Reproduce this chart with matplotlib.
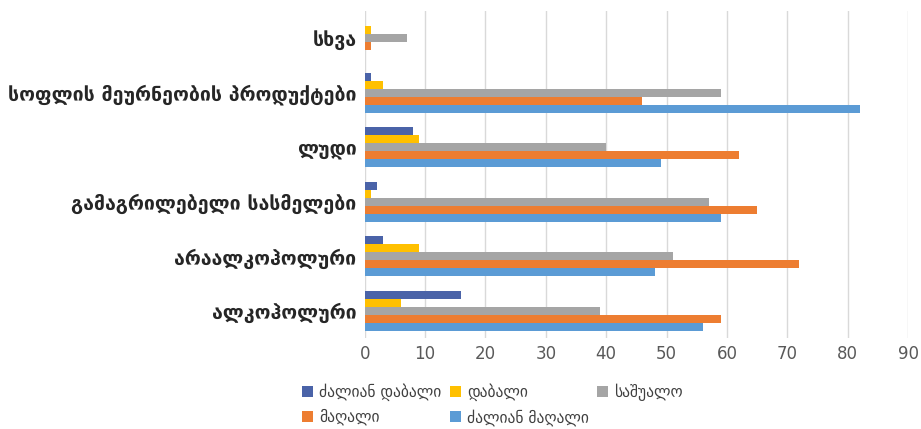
import numpy as np
import matplotlib.pyplot as plt

categories = ['ალკოჰოლური', 'არაალკოჰოლური', 'გამაგრილებელი სასმელები',
              'ლუდი', 'სოფლის მეურნეობის პროდუქტები', 'სხვა']
series_names = ['ძალიან დაბალი', 'დაბალი', 'საშუალო', 'მაღალი', 'ძალიან მაღალი']
very_low = [16, 3, 2, 8, 1, 0]
low = [6, 9, 1, 9, 3, 1]
medium = [39, 51, 57, 40, 59, 7]
high = [59, 72, 65, 62, 46, 1]
very_high = [56, 48, 59, 49, 82, 0]
x_ticks = [0, 10, 20, 30, 40, 50, 60, 70, 80, 90]

colors = ['#4a63a8', '#ffc000', '#a5a5a5', '#ed7d31', '#5b9bd5']
values = [very_low, low, medium, high, very_high]

plt.rcParams['font.family'] = ['DejaVu Sans']
fig = plt.figure(figsize=(9.21, 4.29), dpi=100)
ax = fig.add_axes([0.396, 0.2114, 0.59, 0.7636])

y = np.arange(len(categories))
h = 0.146
bars = []
for i, (vals, name, c) in enumerate(zip(values, series_names, colors)):
    offset = (2 - i) * h
    b = ax.barh(y + offset, vals, height=h, color=c, label=name, zorder=3)
    bars.append(b)

ax.set_xlim(0, 90)
ax.set_ylim(-0.5, len(categories) - 0.5)
ax.set_xticks(x_ticks)
ax.set_yticks(y)
ax.set_yticklabels(categories, fontsize=14, fontweight='bold', color='#262626')
ax.tick_params(axis='x', labelsize=12, colors='#595959', length=0, pad=5)
ax.tick_params(axis='y', length=0, pad=6)
ax.xaxis.grid(True, color='#d9d9d9', linewidth=1, zorder=0)
for s in ax.spines.values():
    s.set_visible(False)

# legend filled row-wise: reorder for matplotlib's column-wise fill
order = [0, 3, 1, 4, 2]
leg = fig.legend([bars[i] for i in order], [series_names[i] for i in order],
                 ncol=3, loc='lower left', bbox_to_anchor=(0.3125, -0.025),
                 frameon=False, fontsize=11.2, handlelength=0.7, handleheight=0.7,
                 handletextpad=0.4, columnspacing=0.55, labelspacing=0.5)
for t in leg.get_texts():
    t.set_color('#404040')

fig.savefig('out.png', dpi=100)
